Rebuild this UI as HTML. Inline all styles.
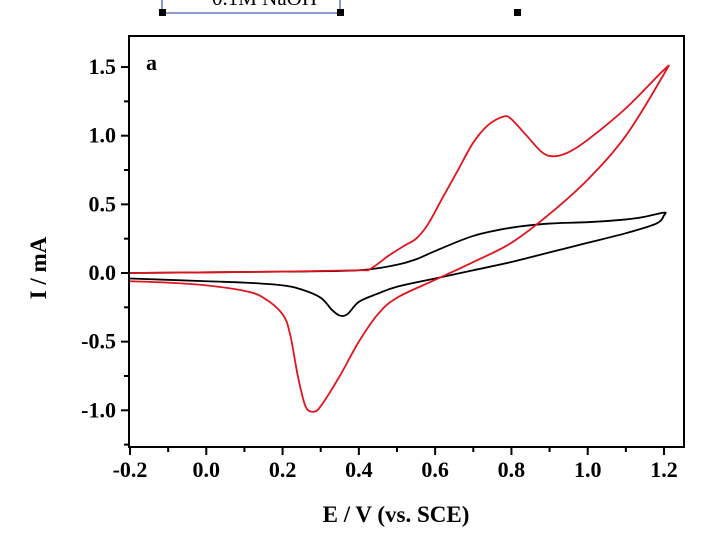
<!DOCTYPE html>
<html><head><meta charset="utf-8"><style>
body{margin:0;background:#fff;}
svg text{font-family:"Liberation Serif",serif;font-weight:bold;fill:#000;}
</style></head><body>
<svg id="chart" width="720" height="533" viewBox="0 0 720 533" xmlns="http://www.w3.org/2000/svg">
<g>
<line x1="162" y1="-1" x2="205" y2="-1" stroke="#000" stroke-width="1.5"/>
<text x="212" y="5" font-size="21" style="font-weight:normal">0.1M NaOH</text>
<rect x="162" y="-12" width="178" height="25" fill="none" stroke="#2233aa" stroke-width="1"/>
<rect x="159" y="9" width="7" height="7" fill="#000"/>
<rect x="337" y="9" width="7" height="7" fill="#000"/>
<rect x="514" y="9" width="7" height="7" fill="#000"/>
</g>
<rect x="129" y="36" width="555" height="411" fill="none" stroke="#000" stroke-width="2"/>
<g id="axes"></g>
<g id="series"></g>
<text x="146" y="70" font-size="22">a</text>
<text x="396" y="522" font-size="23" text-anchor="middle">E / V (vs. SCE)</text>
<text transform="translate(46,268) rotate(-90)" font-size="23" text-anchor="middle">I / mA</text>
</svg>
<script>
const xTicks=[-0.2,0.0,0.2,0.4,0.6,0.8,1.0,1.2];
const xTickLabels=["-0.2","0.0","0.2","0.4","0.6","0.8","1.0","1.2"];
const yTicks=[-1.0,-0.5,0.0,0.5,1.0,1.5];
const yTickLabels=["-1.0","-0.5","0.0","0.5","1.0","1.5"];
const blackE=[-0.2,0.2,0.4,0.5,0.55,0.6,0.7,0.8,0.9,1.0,1.1,1.15,1.2,1.2,1.18,1.1,1.0,0.9,0.8,0.7,0.6,0.5,0.45,0.4,0.37,0.35,0.33,0.3,0.25,0.2,0.1,0.0,-0.2];
const blackI=[0.0,0.01,0.02,0.06,0.1,0.16,0.27,0.33,0.36,0.37,0.39,0.41,0.44,0.42,0.36,0.29,0.22,0.15,0.08,0.02,-0.04,-0.1,-0.15,-0.21,-0.3,-0.31,-0.27,-0.18,-0.12,-0.09,-0.07,-0.06,-0.04];
const redE=[-0.2,0.2,0.4,0.43,0.48,0.52,0.55,0.58,0.62,0.66,0.7,0.74,0.78,0.8,0.84,0.88,0.91,0.95,1.0,1.1,1.2,1.2,1.1,1.0,0.9,0.8,0.7,0.6,0.5,0.45,0.4,0.35,0.3,0.28,0.26,0.24,0.22,0.2,0.15,0.1,0.0,-0.1,-0.2];
const redI=[0.0,0.01,0.02,0.03,0.13,0.2,0.25,0.35,0.55,0.75,0.95,1.08,1.14,1.12,1.0,0.88,0.85,0.88,0.97,1.2,1.48,1.45,1.0,0.68,0.43,0.22,0.08,-0.05,-0.18,-0.3,-0.5,-0.75,-0.97,-1.01,-0.97,-0.75,-0.45,-0.3,-0.18,-0.13,-0.09,-0.07,-0.06];
const NS="http://www.w3.org/2000/svg";
const X=v=>130+(v+0.2)*(534/1.4);
const Y=v=>273-v*137.3;
const ax=document.getElementById('axes');
function mk(t,a,p){const e=document.createElementNS(NS,t);for(const k in a)e.setAttribute(k,a[k]);p.appendChild(e);return e;}
xTicks.forEach((v,i)=>{
 const t=mk('line',{x1:X(v),x2:X(v),y1:447,y2:455,stroke:'#000','stroke-width':2},ax);
 
 
 if(i<xTicks.length-1){const m=mk('line',{x1:X(v+0.1),x2:X(v+0.1),y1:447,y2:452,stroke:'#000','stroke-width':2},ax);
 
 }
 const l=mk('text',{x:X(v),y:477,'font-size':22,'text-anchor':'middle'},ax);l.textContent=xTickLabels[i];
 
 
});
yTicks.forEach((v,i)=>{
 const t=mk('line',{x1:121,x2:129,y1:Y(v),y2:Y(v),stroke:'#000','stroke-width':2},ax);
 
 
 const m=mk('line',{x1:124,x2:129,y1:Y(v-0.25),y2:Y(v-0.25),stroke:'#000','stroke-width':2},ax);
 
 
 const l=mk('text',{x:116,y:Y(v)+7,'font-size':22,'text-anchor':'end'},ax);l.textContent=yTickLabels[i];
 
 
});
const s=document.getElementById('series');
function line(E,I,c,n){
 const P=E.map((e,i)=>[X(e),Y(I[i])]);
 let d='M'+P[0][0]+','+P[0][1];
 for(let i=0;i<P.length-1;i++){
  const p0=P[Math.max(0,i-1)],p1=P[i],p2=P[i+1],p3=P[Math.min(P.length-1,i+2)];
  const t=1/6;
  d+=' C'+(p1[0]+(p2[0]-p0[0])*t)+','+(p1[1]+(p2[1]-p0[1])*t)+' '+(p2[0]-(p3[0]-p1[0])*t)+','+(p2[1]-(p3[1]-p1[1])*t)+' '+p2[0]+','+p2[1];
 }
 const p=mk('path',{d:d,fill:'none',stroke:c,'stroke-width':1.8,'stroke-linejoin':'round'},s);
 
 }
line(blackE,blackI,'#000','cv-naoh-black');
line(redE,redI,'#e0141e','cv-red');
</script>
</body></html>
